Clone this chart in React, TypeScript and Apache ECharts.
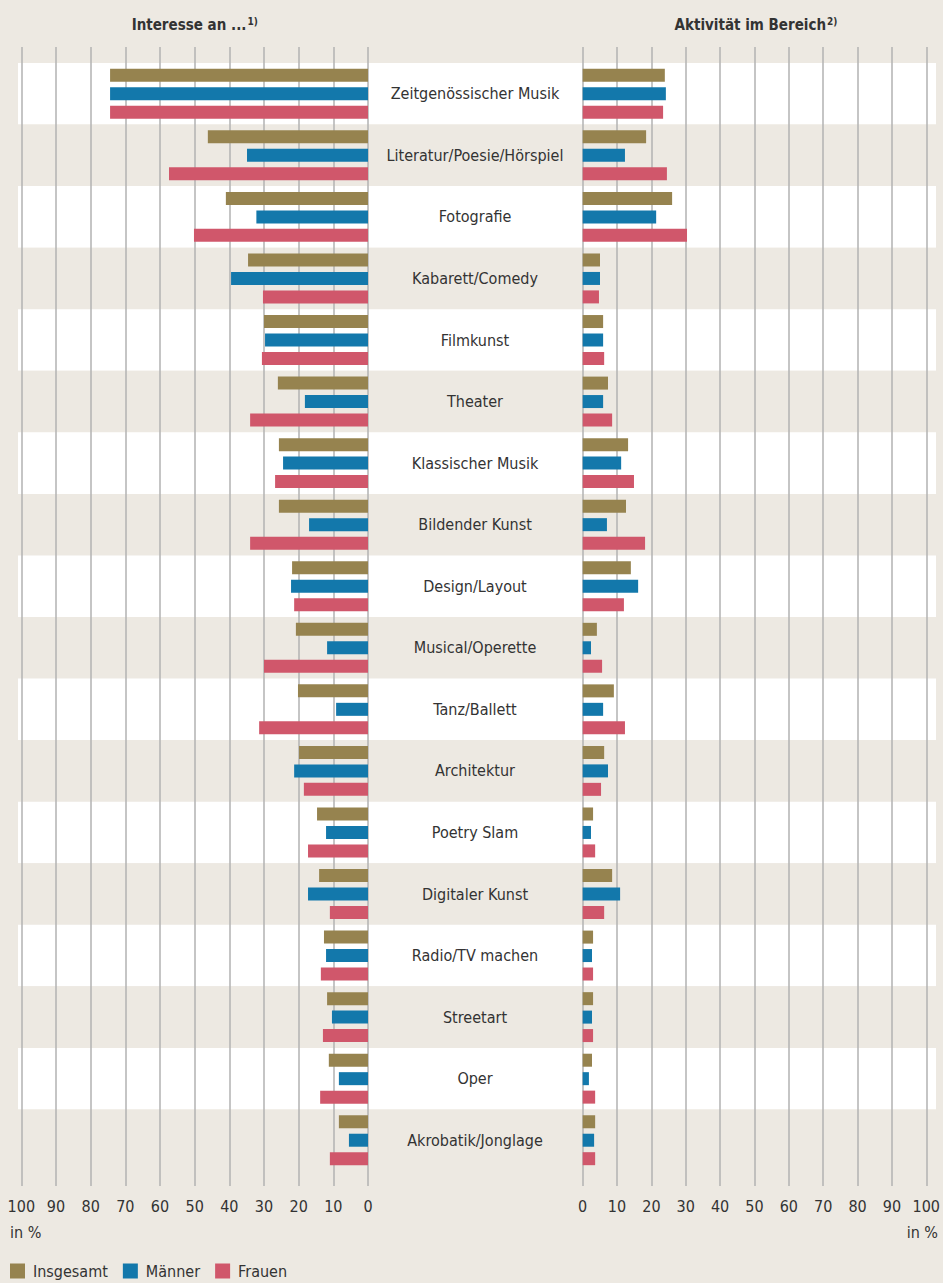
import React, { useEffect, useRef } from "react";
import * as echarts from "echarts";

const categories = [
  "Zeitgenössischer Musik",
  "Literatur/Poesie/Hörspiel",
  "Fotografie",
  "Kabarett/Comedy",
  "Filmkunst",
  "Theater",
  "Klassischer Musik",
  "Bildender Kunst",
  "Design/Layout",
  "Musical/Operette",
  "Tanz/Ballett",
  "Architektur",
  "Poetry Slam",
  "Digitaler Kunst",
  "Radio/TV machen",
  "Streetart",
  "Oper",
  "Akrobatik/Jonglage",
];

const seriesNames = ["Insgesamt", "Männer", "Frauen"];

const interestTotal = [74.4, 46.2, 41.0, 34.6, 30.0, 26.0, 25.7, 25.7, 21.9, 20.8, 20.2, 19.9, 14.7, 14.1, 12.7, 11.8, 11.3, 8.4];
const interestMen = [74.4, 34.9, 32.2, 39.5, 29.7, 18.2, 24.5, 17.0, 22.2, 11.8, 9.2, 21.3, 12.1, 17.3, 12.1, 10.4, 8.4, 5.5];
const interestWomen = [74.4, 57.4, 50.2, 30.3, 30.6, 34.0, 26.8, 34.0, 21.3, 30.0, 31.4, 18.5, 17.3, 11.0, 13.6, 13.0, 13.8, 11.0];

const activityTotal = [23.7, 18.3, 25.8, 5.0, 5.9, 7.3, 13.1, 12.5, 13.9, 4.1, 9.0, 6.2, 3.0, 8.5, 3.0, 3.0, 2.7, 3.6];
const activityMen = [24.0, 12.2, 21.2, 5.0, 5.9, 5.9, 11.1, 7.0, 16.0, 2.4, 5.9, 7.3, 2.4, 10.8, 2.7, 2.7, 1.8, 3.3];
const activityWomen = [23.2, 24.3, 30.1, 4.7, 6.2, 8.5, 14.8, 18.0, 11.9, 5.6, 12.2, 5.3, 3.6, 6.2, 3.0, 3.0, 3.6, 3.6];

const axisMin = 0;
const axisMax = 100;
const axisInterval = 10;

const COLORS = ["#96834f", "#1378ab", "#d0576b"];
const FONT = "'DejaVu Sans Condensed', 'DejaVu Sans', sans-serif";
const BG = "#ede9e2";
const TEXT = "#333333";

export default function App() {
  const ref = useRef<HTMLDivElement>(null);

  useEffect(() => {
    if (!ref.current) return;
    const chart = echarts.init(ref.current, undefined, { renderer: "svg" });

    const L = 21.33;
    const W = 346.67;
    const R = 582.67;
    const bandTop = 63;
    const bandH = 1108;
    const lineTop = 47;
    const lineH = 1139;

    const hiddenAxis = {
      axisLine: { show: false },
      axisTick: { show: false },
      axisLabel: { show: false },
      splitLine: { show: false },
    };

    const lineXAxis = (gridIndex: number, inverse: boolean) => ({
      type: "value",
      gridIndex,
      min: axisMin,
      max: axisMax,
      interval: axisInterval,
      inverse,
      position: "bottom",
      z: 1,
      axisLine: { show: false },
      axisTick: { show: false },
      axisLabel: {
        show: true,
        color: TEXT,
        fontSize: 16,
        fontFamily: FONT,
        margin: 12,
      },
      splitLine: { show: true, lineStyle: { color: "#b2b2b2", width: 1.5 } },
    });

    const barData = [
      [interestTotal, interestMen, interestWomen],
      [activityTotal, activityMen, activityWomen],
    ];

    const series: any[] = [];
    [0, 1].forEach((panel) => {
      barData[panel].forEach((vals, i) => {
        series.push({
          type: "bar",
          name: seriesNames[i],
          xAxisIndex: 3 + panel,
          yAxisIndex: 3 + panel,
          data: vals,
          barWidth: 13,
          barGap: "42%",
          itemStyle: { color: COLORS[i] },
          z: 3,
        });
      });
    });

    const richTitle = {
      a: { fontSize: 15, fontWeight: "bold", fontFamily: FONT, fill: TEXT, color: TEXT },
      s: { fontSize: 10, fontWeight: "bold", fontFamily: FONT, fill: TEXT, color: TEXT, verticalAlign: "top", padding: [0, 0, 8, 1] },
    };

    chart.setOption({
      animation: false,
      backgroundColor: BG,
      textStyle: { fontFamily: FONT },
      grid: [
        { left: 18, top: bandTop, width: 918, height: bandH },
        { left: L, top: lineTop, width: W, height: lineH },
        { left: R, top: lineTop, width: W, height: lineH },
        { left: L, top: bandTop, width: W, height: bandH },
        { left: R, top: bandTop, width: W, height: bandH },
      ],
      xAxis: [
        { type: "value", gridIndex: 0, min: 0, max: 1, show: false },
        lineXAxis(1, true),
        lineXAxis(2, false),
        { type: "value", gridIndex: 3, min: axisMin, max: axisMax, inverse: true, ...hiddenAxis },
        { type: "value", gridIndex: 4, min: axisMin, max: axisMax, ...hiddenAxis },
      ],
      yAxis: [
        {
          type: "category",
          gridIndex: 0,
          data: categories,
          inverse: true,
          z: 0,
          axisLine: { show: false },
          axisTick: { show: false },
          axisLabel: { show: false },
          splitLine: { show: false },
          splitArea: { show: true, areaStyle: { color: ["#ffffff", BG] } },
        },
        { type: "value", gridIndex: 1, min: 0, max: 1, ...hiddenAxis },
        { type: "value", gridIndex: 2, min: 0, max: 1, ...hiddenAxis },
        {
          type: "category",
          gridIndex: 3,
          data: categories,
          inverse: true,
          position: "right",
          axisLine: { show: false },
          axisTick: { show: false },
          splitLine: { show: false },
          axisLabel: {
            show: true,
            align: "center",
            margin: 107,
            color: TEXT,
            fontSize: 16,
            fontFamily: FONT,
            padding: [6, 0, 0, 0],
          },
        },
        {
          type: "category",
          gridIndex: 4,
          data: categories,
          inverse: true,
          ...hiddenAxis,
        },
      ],
      legend: {
        data: seriesNames,
        left: 10,
        top: 1263,
        padding: 0,
        itemWidth: 15,
        itemHeight: 15,
        itemGap: 15,
        icon: "rect",
        textStyle: { color: TEXT, fontSize: 16, fontFamily: FONT, padding: [0, 0, 0, 3] },
      },
      graphic: [
        {
          type: "text",
          x: 194.7,
          y: 25,
          style: {
            text: "{a|Interesse an ...}{s|1)}",
            align: "center",
            verticalAlign: "middle",
            rich: richTitle,
          },
        },
        {
          type: "text",
          x: 756,
          y: 25,
          style: {
            text: "{a|Aktivität im Bereich}{s|2)}",
            align: "center",
            verticalAlign: "middle",
            rich: richTitle,
          },
        },
        {
          type: "text",
          x: 10,
          y: 1232,
          style: { text: "in %", fontSize: 16, fontFamily: FONT, fill: TEXT, align: "left", verticalAlign: "middle" },
        },
        {
          type: "text",
          x: 938,
          y: 1232,
          style: { text: "in %", fontSize: 16, fontFamily: FONT, fill: TEXT, align: "right", verticalAlign: "middle" },
        },
      ],
      series,
    });

    return () => chart.dispose();
  }, []);

  return (
    <div
      ref={ref}
      style={{ position: "absolute", left: 0, top: 0, width: 943, height: 1283 }}
    />
  );
}
